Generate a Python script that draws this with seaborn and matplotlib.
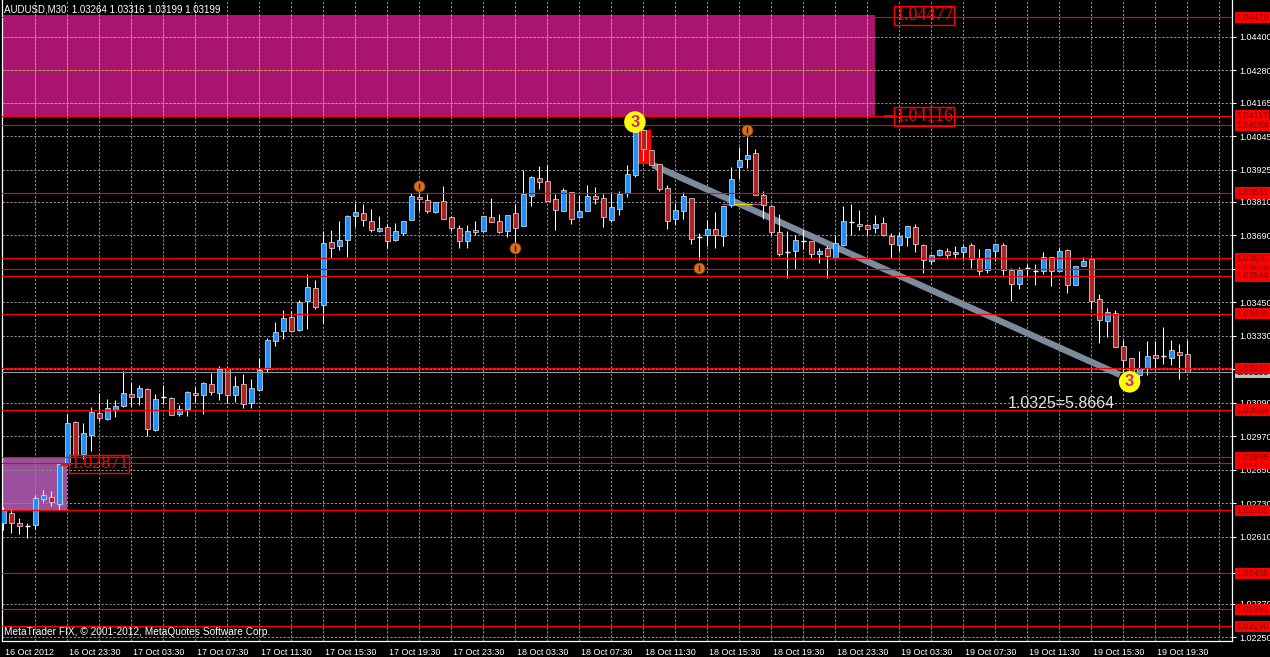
import numpy as np
import pandas as pd
import matplotlib
matplotlib.use("Agg")
import matplotlib.pyplot as plt
import matplotlib.transforms as mtransforms
from matplotlib.patches import Rectangle
import seaborn as sns

# AUDUSD M30 candles, 16 Oct 19:30 .. 19 Oct 21:30
opens = [1.02660, 1.02697, 1.02659, 1.02647, 1.02654, 1.02745, 1.02753, 1.02729, 1.02872, 1.03021,
         1.02908, 1.02976, 1.03054, 1.03031, 1.03065, 1.03079, 1.03122, 1.03112, 1.03138, 1.02993,
         1.03109, 1.03107, 1.03051, 1.03069, 1.03125, 1.03116, 1.03156, 1.03126, 1.03214, 1.03116,
         1.03156, 1.03090, 1.03137, 1.03210, 1.03310, 1.03346, 1.03396, 1.03352, 1.03453, 1.03501,
         1.03439, 1.03666, 1.03650, 1.03674, 1.03758, 1.03770, 1.03740, 1.03706, 1.03720, 1.03674,
         1.03699, 1.03746, 1.03826, 1.03815, 1.03773, 1.03812, 1.03754, 1.03715, 1.03668, 1.03710,
         1.03704, 1.03754, 1.03740, 1.03706, 1.03769, 1.03724, 1.03829, 1.03894, 1.03883, 1.03819,
         1.03776, 1.03844, 1.03754, 1.03778, 1.03832, 1.03823, 1.03746, 1.03785, 1.03842, 1.03905,
         1.04066, 1.03995, 1.03944, 1.03858, 1.03747, 1.03776, 1.03822, 1.03684, 1.03690, 1.03711,
         1.03687, 1.03797, 1.03933, 1.03964, 1.03983, 1.03833, 1.03794, 1.03702, 1.03629, 1.03632,
         1.03670, 1.03668, 1.03624, 1.03644, 1.03610, 1.03654, 1.03737, 1.03731, 1.03728, 1.03717,
         1.03734, 1.03686, 1.03656, 1.03685, 1.03719, 1.03656, 1.03597, 1.03620, 1.03632, 1.03622,
         1.03630, 1.03655, 1.03604, 1.03564, 1.03635, 1.03654, 1.03564, 1.03516, 1.03573, 1.03561,
         1.03561, 1.03611, 1.03561, 1.03636, 1.03511, 1.03580, 1.03604, 1.03461, 1.03382, 1.03412,
         1.03293, 1.03249, 1.03189, 1.03216, 1.03260, 1.03257, 1.03252, 1.03271, 1.03264]
highs = [1.02717, 1.02711, 1.02678, 1.02659, 1.02759, 1.02777, 1.02773, 1.02872, 1.03051, 1.03025,
         1.03018, 1.03075, 1.03125, 1.03105, 1.03099, 1.03204, 1.03159, 1.03155, 1.03143, 1.03123,
         1.03155, 1.03111, 1.03083, 1.03132, 1.03147, 1.03165, 1.03197, 1.03222, 1.03218, 1.03186,
         1.03192, 1.03176, 1.03251, 1.03322, 1.03379, 1.03421, 1.03418, 1.03459, 1.03551, 1.03529,
         1.03704, 1.03708, 1.03740, 1.03761, 1.03806, 1.03801, 1.03784, 1.03759, 1.03731, 1.03734,
         1.03740, 1.03841, 1.03873, 1.03839, 1.03809, 1.03866, 1.03758, 1.03726, 1.03726, 1.03740,
         1.03758, 1.03823, 1.03766, 1.03761, 1.03801, 1.03922, 1.03901, 1.03938, 1.03943, 1.03837,
         1.03859, 1.03845, 1.03833, 1.03870, 1.03863, 1.03839, 1.03845, 1.03847, 1.03941, 1.04075,
         1.04067, 1.03996, 1.03945, 1.03869, 1.03806, 1.03845, 1.03823, 1.03698, 1.03744, 1.03773,
         1.03794, 1.03934, 1.04006, 1.04042, 1.03998, 1.03847, 1.03795, 1.03765, 1.03705, 1.03692,
         1.03708, 1.03669, 1.03645, 1.03651, 1.03690, 1.03795, 1.03803, 1.03781, 1.03728, 1.03761,
         1.03755, 1.03696, 1.03702, 1.03723, 1.03730, 1.03657, 1.03624, 1.03640, 1.03644, 1.03650,
         1.03656, 1.03662, 1.03640, 1.03641, 1.03658, 1.03662, 1.03573, 1.03575, 1.03585, 1.03587,
         1.03628, 1.03612, 1.03644, 1.03642, 1.03579, 1.03612, 1.03605, 1.03480, 1.03430, 1.03423,
         1.03316, 1.03250, 1.03276, 1.03310, 1.03310, 1.03362, 1.03314, 1.03300, 1.03316]
lows = [1.02635, 1.02625, 1.02620, 1.02606, 1.02637, 1.02735, 1.02721, 1.02705, 1.02867, 1.02890,
        1.02890, 1.02916, 1.03025, 1.03029, 1.03039, 1.03075, 1.03078, 1.03081, 1.02971, 1.02988,
        1.03087, 1.03045, 1.03043, 1.03043, 1.03093, 1.03051, 1.03117, 1.03101, 1.03090, 1.03093,
        1.03073, 1.03073, 1.03136, 1.03200, 1.03293, 1.03317, 1.03346, 1.03348, 1.03353, 1.03425,
        1.03376, 1.03610, 1.03638, 1.03612, 1.03720, 1.03723, 1.03702, 1.03702, 1.03644, 1.03669,
        1.03692, 1.03745, 1.03778, 1.03771, 1.03770, 1.03747, 1.03705, 1.03645, 1.03645, 1.03692,
        1.03702, 1.03737, 1.03696, 1.03684, 1.03660, 1.03723, 1.03794, 1.03857, 1.03814, 1.03710,
        1.03776, 1.03731, 1.03753, 1.03778, 1.03803, 1.03720, 1.03737, 1.03764, 1.03828, 1.03899,
        1.03956, 1.03943, 1.03847, 1.03713, 1.03731, 1.03748, 1.03660, 1.03600, 1.03651, 1.03645,
        1.03651, 1.03791, 1.03890, 1.03931, 1.03835, 1.03747, 1.03690, 1.03616, 1.03537, 1.03570,
        1.03642, 1.03610, 1.03592, 1.03537, 1.03609, 1.03653, 1.03690, 1.03710, 1.03690, 1.03698,
        1.03688, 1.03609, 1.03632, 1.03651, 1.03630, 1.03556, 1.03588, 1.03616, 1.03606, 1.03606,
        1.03606, 1.03573, 1.03549, 1.03556, 1.03597, 1.03547, 1.03456, 1.03496, 1.03541, 1.03513,
        1.03552, 1.03507, 1.03560, 1.03484, 1.03510, 1.03579, 1.03427, 1.03305, 1.03326, 1.03289,
        1.03200, 1.03183, 1.03176, 1.03189, 1.03212, 1.03230, 1.03224, 1.03176, 1.03199]
closes = [1.02706, 1.02661, 1.02647, 1.02647, 1.02749, 1.02759, 1.02733, 1.02869, 1.03018, 1.02904,
          1.02982, 1.03057, 1.03037, 1.03072, 1.03079, 1.03125, 1.03110, 1.03143, 1.02997, 1.03104,
          1.03109, 1.03047, 1.03067, 1.03129, 1.03116, 1.03161, 1.03130, 1.03210, 1.03119, 1.03150,
          1.03087, 1.03142, 1.03206, 1.03314, 1.03344, 1.03394, 1.03348, 1.03451, 1.03505, 1.03432,
          1.03662, 1.03645, 1.03672, 1.03758, 1.03772, 1.03746, 1.03710, 1.03716, 1.03670, 1.03704,
          1.03740, 1.03829, 1.03819, 1.03778, 1.03808, 1.03747, 1.03717, 1.03670, 1.03706, 1.03701,
          1.03758, 1.03738, 1.03702, 1.03761, 1.03717, 1.03837, 1.03897, 1.03880, 1.03814, 1.03781,
          1.03851, 1.03749, 1.03776, 1.03830, 1.03818, 1.03754, 1.03790, 1.03839, 1.03909, 1.04058,
          1.03998, 1.03943, 1.03854, 1.03740, 1.03779, 1.03830, 1.03675, 1.03684, 1.03713, 1.03690,
          1.03794, 1.03892, 1.03958, 1.03976, 1.03835, 1.03799, 1.03702, 1.03624, 1.03629, 1.03672,
          1.03670, 1.03624, 1.03635, 1.03615, 1.03662, 1.03741, 1.03737, 1.03724, 1.03713, 1.03729,
          1.03689, 1.03660, 1.03686, 1.03722, 1.03658, 1.03600, 1.03618, 1.03636, 1.03618, 1.03630,
          1.03647, 1.03604, 1.03563, 1.03640, 1.03658, 1.03567, 1.03515, 1.03567, 1.03573, 1.03561,
          1.03611, 1.03563, 1.03632, 1.03513, 1.03579, 1.03598, 1.03456, 1.03385, 1.03414, 1.03289,
          1.03244, 1.03200, 1.03214, 1.03257, 1.03252, 1.03257, 1.03278, 1.03260, 1.03199]

# price scale ticks on the right
y_ticks = [1.04400, 1.04280, 1.04165, 1.04045, 1.03925, 1.03810, 1.03690, 1.03570, 1.03450, 1.03330,
           1.03210, 1.03090, 1.02970, 1.02850, 1.02730, 1.02610, 1.02480, 1.02370, 1.02250]

# horizontal levels (red lines + red price tags), in drawing order
levels = [1.04470, 1.04117, 1.04084, 1.03841, 1.03607, 1.03569, 1.03544, 1.03409, 1.03213,
          1.03064, 1.02873, 1.02895, 1.02705, 1.02480, 1.02351, 1.02290]
bid = 1.03199

# supply / demand zones (price from, price to, last bar covered)
zone_top = (1.04116, 1.04477)
zone_top_end = 108.96
zone_low = (1.02705, 1.02895)
zone_low_end = 7.92
zone_tag_low = 1.02871

# fractal arrows (bar index, price)
fractal_k = [52, 93, 64, 87]
fractal_p = [1.03866, 1.04068, 1.03644, 1.03574]

# zigzag "3" points and trend band
wave_k = [78.96, 140.8]
wave_p = [1.04095, 1.03165]
band_k = [81.2, 139.6]
band_p = [1.03941, 1.03190]

sns.set_theme(style="dark", rc={"axes.facecolor": "black", "figure.facecolor": "black",
                                "axes.edgecolor": "white", "axes.grid": False})
plt.rcParams['font.family'] = ['Liberation Sans', 'DejaVu Sans']

opens = np.array(opens); highs = np.array(highs); lows = np.array(lows); closes = np.array(closes)
n = len(opens)
xs = np.arange(n)
times = pd.date_range('2012-10-16 19:30', periods=n, freq='30min')

fig = plt.figure(figsize=(12.7, 6.57), dpi=100)
ax = fig.add_axes([2 / 1270, 16 / 657, 1230 / 1270, 641 / 657])
ax.set_facecolor('black')
ax.set_xlim(-0.16, 153.6)
ax.set_ylim(1.02237, 1.04532)

# zones
ax.add_patch(Rectangle((-1, zone_top[0]), zone_top_end + 1, zone_top[1] - zone_top[0],
                       fc='#a81470', ec='none', zorder=0.5))
ax.add_patch(Rectangle((-1, zone_low[0]), zone_low_end + 1, zone_low[1] - zone_low[0],
                       fc='#9c4f9c', ec='none', zorder=0.5))

# grid
dash = (0, (2.2, 1.6))
grid_col = '#8c8c8c'
for p in y_ticks:
    ax.axhline(p, color=grid_col, lw=0.75, ls=dash, zorder=1)
for k in range(4, 154, 4):
    ax.axvline(k, color=grid_col, lw=0.75, ls=dash, zorder=1)
# grid shows orange over the magenta zone
ax.vlines(range(4, int(zone_top_end) + 1, 4), zone_top[0], zone_top[1], color='#e8843c',
          lw=0.75, ls=dash, zorder=1.5)
ax.hlines([p for p in y_ticks if zone_top[0] < p < zone_top[1]], -1, zone_top_end,
          color='#e8843c', lw=0.75, ls=dash, zorder=1.5)
ax.vlines(range(4, int(zone_low_end) + 1, 4), zone_low[0], zone_low[1], color='#d050d0',
          lw=0.75, ls=dash, zorder=1.5)

# red box behind the top bars
ax.add_patch(Rectangle((79.4, 1.03946), 1.6, 1.04066 - 1.03946, fc='red', ec='none', zorder=2))

# trend band
ax.plot(band_k, band_p, color='#7b8b9b', lw=4.6, solid_capstyle='butt', zorder=2.5)
ax.hlines(1.03800, 89.9, 94.9, color='#a050a0', lw=1, zorder=2.6)
ax.hlines(1.03800, 91.3, 93.6, color='#e0e000', lw=1, zorder=2.7)

# candles
bull = closes > opens
bear = closes < opens
doji = closes == opens
ax.vlines(xs, lows, highs, color='white', lw=0.75, zorder=3)
ax.bar(xs[bull], (closes - opens)[bull], bottom=opens[bull], width=0.62, color='#1e90ff',
       edgecolor='#e6e6e6', linewidth=0.5, zorder=4)
ax.bar(xs[bear], (opens - closes)[bear], bottom=closes[bear], width=0.62, color='#b22222',
       edgecolor='#e6e6e6', linewidth=0.5, zorder=4)
ax.hlines(opens[doji], xs[doji] - 0.31, xs[doji] + 0.31, color='white', lw=1, zorder=4)

# level lines
for p in levels:
    ax.axhline(p, color='#ff0000', lw=0.8, zorder=5)
ax.axhline(bid, color='#9a9a9a', lw=0.8, zorder=5)

# fractals
sns.scatterplot(x=fractal_k, y=fractal_p, s=62, color='#d8701c', edgecolor='#8a3d00',
                linewidth=0.5, zorder=6, ax=ax, legend=False)
ax.scatter(fractal_k, fractal_p, marker='|', s=22, color='#3a1a00', linewidths=1, zorder=7)

# wave labels
sns.scatterplot(x=wave_k, y=wave_p, s=240, color='#ffff00', edgecolor='none',
                zorder=8, ax=ax, legend=False)
for k, p in zip(wave_k, wave_p):
    ax.text(k, p, '3', color='#c8288c', fontsize=12, fontweight='bold', ha='center',
            va='center', zorder=9)

# zone price labels
serif = ['Liberation Serif', 'DejaVu Serif']
for k, p in [(111.5, zone_top[1]), (111.5, zone_top[0]), (8.34, zone_tag_low)]:
    ax.text(k, p, f'{p:.5f}', color='red', fontsize=13, family=serif, va='center', ha='left',
            bbox=dict(boxstyle='square,pad=0.05', fc='none', ec='red', lw=1), zorder=9)
ax.hlines(zone_top[0], 110.0, 111.4, color='red', lw=2, zorder=9)
ax.hlines(zone_tag_low, 7.1, 8.3, color='red', lw=2, zorder=9)

ax.text(125.6, 1.03089, '1.0325=5.8664', color='#e0e0e0', fontsize=11.5, ha='left',
        va='center', zorder=9)

# header and footer
ax.text(0.002, 1 - 9 / 641, f'AUDUSD,M30  {opens[-1]:.5f} {highs[-1]:.5f} {lows[-1]:.5f} {closes[-1]:.5f}',
        transform=ax.transAxes, color='white', fontsize=7.0, va='center', zorder=10)
ax.text(0.002, 1 - 632 / 641, 'MetaTrader FIX, \u00a9 2001-2012, MetaQuotes Software Corp.',
        transform=ax.transAxes, color='white', fontsize=7.3, va='center', zorder=10)

# axes styling
for side in ['left', 'right', 'bottom']:
    ax.spines[side].set_color('white')
    ax.spines[side].set_linewidth(0.9)
ax.spines['top'].set_visible(False)

ax.yaxis.tick_right()
ax.set_yticks(y_ticks)
ax.set_yticklabels([f'{v:.5f}' for v in y_ticks])
ax.tick_params(axis='y', colors='white', labelsize=6.5, length=3, width=0.8, pad=2, direction='out')

xt = list(range(0, n, 8))
xlabels = [times[0].strftime('%d %b %Y')] + [times[k].strftime('%d %b %H:%M') for k in xt[1:]]
ax.set_xticks(xt)
ax.set_xticklabels(xlabels)
ax.tick_params(axis='x', colors='white', labelsize=6.5, length=4, width=0.8, pad=1, direction='out')
shift = mtransforms.ScaledTranslation(2 / 100, 0, fig.dpi_scale_trans)
for lbl in ax.get_xticklabels():
    lbl.set_ha('left')
    lbl.set_transform(lbl.get_transform() + shift)

# price tags on the right scale
trans = mtransforms.blended_transform_factory(ax.transAxes, ax.transData)
tag_shift = mtransforms.ScaledTranslation(4 / 100, 0, fig.dpi_scale_trans)
ax.text(1.0, bid, f'{bid:.5f}', transform=trans + tag_shift, color='black', fontsize=6.5,
        va='center', ha='left', clip_on=False, zorder=11,
        bbox=dict(boxstyle='square,pad=0.12', fc='#c0c0c0', ec='none'))
for p in levels:
    ax.text(1.0, p, f'{p:.5f}', transform=trans + tag_shift, color='#800000', fontsize=6.5,
            va='center', ha='left', clip_on=False, zorder=12,
            bbox=dict(boxstyle='square,pad=0.12', fc='red', ec='none'))

fig.savefig('out.png', dpi=100, facecolor='black')
